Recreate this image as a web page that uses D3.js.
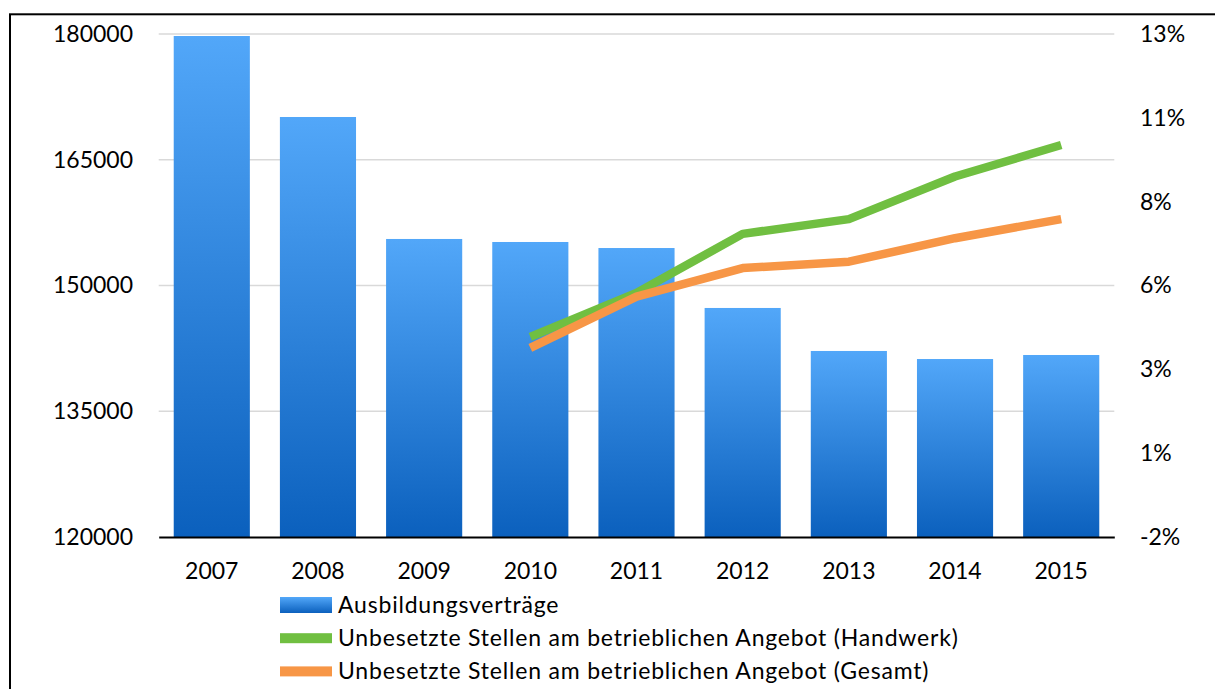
<!DOCTYPE html>
<html>
<head>
<meta charset="utf-8">
<script src="https://cdn.jsdelivr.net/npm/d3@7"></script>
<style>
  body { margin: 0; background: #fff; }
  svg { display: block; font-family: Lato, "Liberation Sans", sans-serif; }
</style>
</head>
<body>
<svg id="chart" width="1215" height="689"></svg>
<script>
// data
const years = ["2007", "2008", "2009", "2010", "2011", "2012", "2013", "2014", "2015"];
const vertraege = [179760, 170100, 155550, 155190, 154470, 147320, 142190, 141230, 141710];
const lineYears = ["2010", "2011", "2012", "2013", "2014", "2015"];
const handwerk = [3.97, 5.28, 7.04, 7.48, 8.75, 9.69];
const gesamt = [3.64, 5.17, 6.02, 6.21, 6.91, 7.48];
const leftTicks = [120000, 135000, 150000, 165000, 180000];
const rightTicks = [-2, 0.5, 3, 5.5, 8, 10.5, 13];
const rightTickLabels = ["-2%", "1%", "3%", "6%", "8%", "11%", "13%"];
const seriesNames = [
  "Ausbildungsverträge",
  "Unbesetzte Stellen am betrieblichen Angebot (Handwerk)",
  "Unbesetzte Stellen am betrieblichen Angebot (Gesamt)"
];

const svg = d3.select("#chart");
const plotLeft = 158.7, plotRight = 1114.3, plotTop = 34, plotBottom = 537;
const green = "#70bf41", orange = "#f79646";

// frame (only top and left edges are inside the picture)
svg.append("rect")
  .attr("x", 10).attr("y", 14.3)
  .attr("width", 1400).attr("height", 900)
  .attr("fill", "none").attr("stroke", "#000").attr("stroke-width", 2);

const defs = svg.append("defs");
const grad = defs.append("linearGradient")
  .attr("id", "barGrad")
  .attr("x1", 0).attr("y1", 0).attr("x2", 0).attr("y2", 1);
grad.append("stop").attr("offset", "0%").attr("stop-color", "#52a7f9");
grad.append("stop").attr("offset", "100%").attr("stop-color", "#0b60bd");

const x = d3.scaleBand().domain(years).range([plotLeft, plotRight])
  .paddingInner(0.283).paddingOuter(0.1415);
const y = d3.scaleLinear().domain([120000, 180000]).range([plotBottom, plotTop]);
const yR = d3.scaleLinear().domain([-2, 13]).range([plotBottom, plotTop]);

// gridlines
svg.append("g")
  .selectAll("line")
  .data(leftTicks.slice(1))
  .enter().append("line")
  .attr("x1", plotLeft).attr("x2", plotRight)
  .attr("y1", d => y(d)).attr("y2", d => y(d))
  .attr("stroke", "#d9d9d9").attr("stroke-width", 1.5);

// bars
svg.append("g")
  .selectAll("rect")
  .data(vertraege)
  .enter().append("rect")
  .attr("x", (d, i) => x(years[i]))
  .attr("width", x.bandwidth())
  .attr("y", d => y(d))
  .attr("height", d => plotBottom - y(d))
  .attr("fill", "url(#barGrad)");

// lines
const line = d3.line()
  .x((d, i) => x(lineYears[i]) + x.bandwidth() / 2)
  .y(d => yR(d));

[[handwerk, green], [gesamt, orange]].forEach(function (s) {
  svg.append("path")
    .datum(s[0])
    .attr("d", line)
    .attr("fill", "none")
    .attr("stroke", s[1])
    .attr("stroke-width", 8.5)
    .attr("stroke-linejoin", "round");
});

// axes
const fontSize = 23;
const leftAxis = svg.append("g")
  .attr("transform", "translate(" + plotLeft + ",0)")
  .call(d3.axisLeft(y).tickValues(leftTicks).tickSize(0).tickPadding(25.7).tickFormat(d3.format("d")));
const rightAxis = svg.append("g")
  .attr("transform", "translate(" + plotRight + ",0)")
  .call(d3.axisRight(yR).tickValues(rightTicks).tickSize(0).tickPadding(25.7)
    .tickFormat((d, i) => rightTickLabels[i]));
const bottomAxis = svg.append("g")
  .attr("transform", "translate(0," + plotBottom + ")")
  .call(d3.axisBottom(x).tickSize(0).tickPadding(26));

[leftAxis, rightAxis].forEach(a => a.select(".domain").remove());
bottomAxis.select(".domain").attr("stroke", "#000").attr("stroke-width", 2.2);
svg.selectAll(".tick text")
  .attr("font-family", "Lato, 'Liberation Sans', sans-serif")
  .attr("font-size", fontSize)
  .attr("fill", "#000");

// legend
const legend = svg.append("g").attr("transform", "translate(280,605)");
const items = legend.selectAll("g")
  .data(seriesNames)
  .enter().append("g")
  .attr("transform", (d, i) => "translate(0," + (i * 33.2) + ")");

items.filter((d, i) => i === 0).append("rect")
  .attr("x", 0).attr("y", -8).attr("width", 52).attr("height", 16)
  .attr("fill", "url(#barGrad)");
items.filter((d, i) => i > 0).append("rect")
  .attr("x", 0).attr("y", -5).attr("width", 52).attr("height", 10)
  .attr("fill", (d, i) => i === 0 ? green : orange);
items.append("text")
  .attr("x", 58)
  .attr("dy", "0.35em")
  .attr("font-size", fontSize)
  .attr("letter-spacing", 0.8)
  .attr("fill", "#000")
  .text(d => d);
</script>
</body>
</html>
